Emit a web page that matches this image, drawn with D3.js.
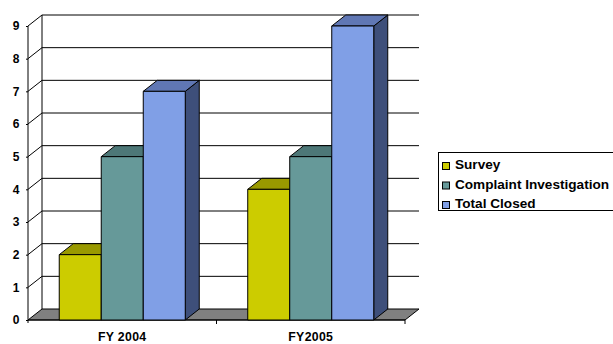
<!DOCTYPE html>
<html><head><meta charset="utf-8">
<script src="https://cdn.jsdelivr.net/npm/d3@7"></script>
<style>
body{margin:0;background:#fff;}
svg{display:block;font-family:"Liberation Sans",Arial,sans-serif;}
</style></head>
<body><svg id="c" width="613" height="344"></svg>
<script>
const categories = ["FY 2004", "FY2005"];
const seriesNames = ["Survey", "Complaint Investigation", "Total Closed"];
const survey = [2, 4];
const complaint = [5, 5];
const totalClosed = [7, 9];
const yTicks = [0,1,2,3,4,5,6,7,8,9];

const seriesValues = [survey, complaint, totalClosed];
const colors = [
  {front:"#CCCC00", top:"#999900", side:"#66660A"},
  {front:"#669999", top:"#4D7777", side:"#3A5C5C"},
  {front:"#809FE6", top:"#6077B4", side:"#3E4F7A"}
];
const svg = d3.select("#c");
const DX = 14, DY = 11;
const pLeft = 28, pRight = 405, pBottom = 320, pTop = 26;
const y = d3.scaleLinear().domain([0,9]).range([pBottom, pTop]);
const x0 = d3.scaleBand().domain(categories).range([pLeft, pRight]).paddingInner(0).paddingOuter(0);
const x1 = d3.scaleBand().domain(seriesNames).range([0, x0.bandwidth()]).paddingInner(0).paddingOuter(0.744);

// back wall gridlines
const g = svg.append("g");
yTicks.forEach(t => {
  if (t === 0) return;
  g.append("line").attr("x1", pLeft+DX).attr("x2", pRight+DX).attr("y1", y(t)-DY).attr("y2", y(t)-DY).attr("stroke","#000");
  g.append("line").attr("x1", pLeft).attr("x2", pLeft+DX).attr("y1", y(t)).attr("y2", y(t)-DY).attr("stroke","#000");
});
g.append("line").attr("x1", pLeft+DX).attr("x2", pLeft+DX).attr("y1", y(9)-DY).attr("y2", y(0)-DY).attr("stroke","#000");

// floor
g.append("path").attr("d", `M${pLeft},${y(0)}L${pRight},${y(0)}L${pRight+DX},${y(0)-DY}L${pLeft+DX},${y(0)-DY}Z`)
  .attr("fill","#808080").attr("stroke","#000").attr("stroke-width",1);

// y axis
const ax = svg.append("g").attr("transform",`translate(${pLeft},0)`)
  .call(d3.axisLeft(y).tickValues(yTicks).tickFormat(d3.format("d")).tickSize(2).tickPadding(6.5));
ax.select(".domain").attr("d", `M0,${pTop}V${pBottom+3}`);
ax.selectAll("path,line").attr("stroke","#000");
ax.selectAll("text").attr("font-size","12px").attr("font-weight","bold").attr("fill","#000").attr("font-family","'Liberation Sans',Arial,sans-serif");

// x axis
const xa = svg.append("g").attr("transform",`translate(0,${pBottom})`);
xa.append("line").attr("x1",pLeft).attr("x2",pRight).attr("stroke","#000");
[(pLeft+pRight)/2, pRight].forEach(px => xa.append("line").attr("x1",px).attr("x2",px).attr("y1",0).attr("y2",4).attr("stroke","#000"));
categories.forEach(c => xa.append("text").attr("x", x0(c)+x0.bandwidth()/2).attr("y", 20.5)
  .attr("text-anchor","middle").attr("font-size","12.3px").attr("letter-spacing","0.3px").attr("font-weight","bold").text(c));

// bars
const bars = svg.append("g").attr("stroke","#000").attr("stroke-width",1).attr("stroke-linejoin","round");
categories.forEach((c, ci) => {
  seriesNames.forEach((s, si) => {
    const v = seriesValues[si][ci];
    const bx = x0(c) + x1(s), bw = x1.bandwidth();
    const yt = y(v), yb = y(0);
    const col = colors[si];
    bars.append("path").attr("d",`M${bx+bw},${yb}L${bx+bw+DX},${yb-DY}L${bx+bw+DX},${yt-DY}L${bx+bw},${yt}Z`).attr("fill",col.side);
    bars.append("path").attr("d",`M${bx},${yt}L${bx+DX},${yt-DY}L${bx+bw+DX},${yt-DY}L${bx+bw},${yt}Z`).attr("fill",col.top);
    bars.append("rect").attr("x",bx).attr("y",yt).attr("width",bw).attr("height",yb-yt).attr("fill",col.front);
  });
});

// legend
const lg = svg.append("g");
lg.append("rect").attr("x",438.5).attr("y",152.5).attr("width",200).attr("height",58).attr("fill","#fff").attr("stroke","#000");
seriesNames.forEach((s, i) => {
  const by = 169 + i*19.5;
  lg.append("rect").attr("x",442.5).attr("y",by-6.5).attr("width",7).attr("height",7).attr("fill",colors[i].front).attr("stroke","#000");
  lg.append("text").attr("x",455).attr("y",by).attr("font-size","13.6px").attr("font-weight","bold").text(s);
});
</script></body></html>
